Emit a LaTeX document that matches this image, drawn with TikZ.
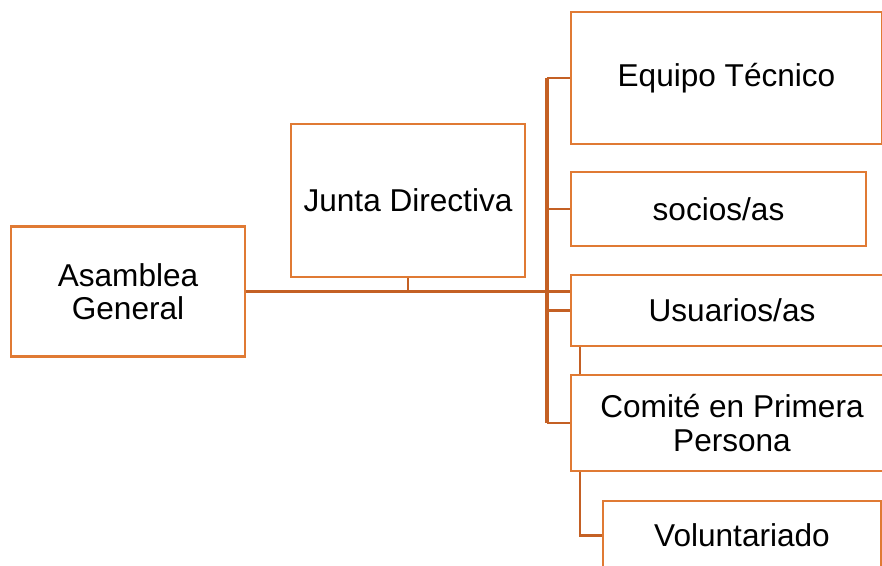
\documentclass[tikz,border=0pt]{standalone}
\usepackage{fontspec}
\setmainfont{Liberation Sans}
\definecolor{boxorange}{RGB}{224,122,52}
\definecolor{lineorange}{RGB}{196,96,36}
\tikzset{
  cargo/.style={draw=boxorange, line width=2.7bp, inner sep=0pt, align=center,
    font=\fontsize{31.7}{33.5}\selectfont},
  rama/.style={draw=lineorange, line width=2.4bp},
  tronco/.style={draw=lineorange, line width=3.2bp}
}

\begin{document}
\begin{tikzpicture}[x=1bp,y=-1bp]
\useasboundingbox (0,0) rectangle (882,566);
% cajas
\node[cargo, minimum width=234bp, minimum height=130bp] (asamblea) at (128,291.5) {Asamblea\\General};
\node[cargo, minimum width=234bp, minimum height=153bp] (junta) at (408,200.5) {Junta Directiva};
\node[cargo, minimum width=311bp, minimum height=132bp] (equipo) at (726.5,78) {Equipo Técnico};
\node[cargo, minimum width=295bp, minimum height=74bp] (socios) at (718.5,209) {socios/as};
\node[cargo, minimum width=322bp, minimum height=71bp] (usuarios) at (732,310.5) {Usuarios/as};
\node[cargo, minimum width=322bp, minimum height=96bp] (comite) at (732,423) {Comité en Primera\\Persona};
\node[cargo, minimum width=278bp, minimum height=69bp] (volunt) at (742,535.5) {Voluntariado};
\coordinate (bus) at (547,0);
\coordinate (sub) at (580,0);
% conectores
\draw[tronco] (asamblea.east) -- (bus |- asamblea.east);
\draw[rama] (bus |- asamblea.east) -- (usuarios.west |- asamblea.east);
\draw[rama] (junta.south) -- (junta.south |- asamblea.east);
\draw[tronco] (bus |- equipo.west) -- (bus |- comite.west);
\draw[rama] (bus |- equipo.west) -- (equipo.west);
\draw[rama] (bus |- socios.west) -- (socios.west);
\draw[rama] (bus |- usuarios.west) -- (usuarios.west);
\draw[rama] (bus |- comite.west) -- (comite.west);
\draw[rama] (sub |- usuarios.south) -- (sub |- comite.north);
\draw[rama] (sub |- comite.south) |- (volunt.west);
\end{tikzpicture}
\end{document}
